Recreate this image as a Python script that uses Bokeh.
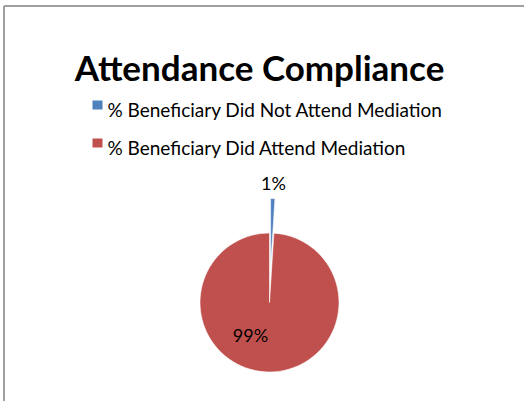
import math
from bokeh.plotting import figure
from bokeh.models import Range1d, ColumnDataSource
from bokeh.embed import file_html
from bokeh.resources import INLINE
from bokeh.core.properties import value

# ---- data ----
title = "Attendance Compliance"
categories = ["% Beneficiary Did Not Attend Mediation",
              "% Beneficiary Did Attend Mediation"]
values = [1, 99]
labels = ["1%", "99%"]
colors = ["#4F81BD", "#C0504D"]

# ---- layout (pixel positions, y measured from top) ----
W, H = 524, 401
FONT = "Lato"


def Y(py):
    return H - py


cx, cy, R = 269, Y(302), 69.5
explode = [34.5, 0]
label_pos = [(273, Y(182)), (250, Y(334))]

p = figure(width=W, height=H, output_backend="svg", toolbar_location=None,
           x_range=Range1d(0, W), y_range=Range1d(0, H), min_border=0)
p.axis.visible = False
p.xgrid.visible = False
p.ygrid.visible = False
p.outline_line_color = None
p.background_fill_color = "white"
p.border_fill_color = "white"

# chart border (left and top visible)
p.segment(x0=[3.5, 3.5], y0=[0, Y(5.5)], x1=[3.5, W], y1=[Y(5.5), Y(5.5)],
          line_color="#A0A0A0", line_width=2)

# pie slices, starting at 12 o'clock going clockwise
total = sum(values)
start = math.pi / 2
xs, ys, sa, ea = [], [], [], []
for v, e in zip(values, explode):
    sweep = 2 * math.pi * v / total
    end = start - sweep
    mid = (start + end) / 2
    xs.append(cx + e * math.cos(mid))
    ys.append(cy + e * math.sin(mid))
    sa.append(end)
    ea.append(start)
    start = end

src = ColumnDataSource(dict(x=xs, y=ys, start=sa, end=ea, color=colors))
p.wedge(x="x", y="y", radius=R, start_angle="start", end_angle="end",
        fill_color="color", line_color="white", line_width=0.6, source=src)

# data labels
p.text(x=[lp[0] for lp in label_pos], y=[lp[1] for lp in label_pos], text=labels,
       text_font=value(FONT), text_font_size="18px", text_color="black",
       text_align="center", text_baseline="middle")

# title
p.text(x=[259], y=[Y(66)], text=[title], text_font=value(FONT),
       text_font_size="35px", text_font_style="bold", text_color="black",
       text_align="center", text_baseline="alphabetic")

# legend
leg_base = [Y(109), Y(147)]
p.rect(x=[97, 97], y=[Y(104.5), Y(142.5)], width=10, height=9,
       fill_color=colors, line_color=None)
p.text(x=[107, 107], y=leg_base, text=categories, text_font=value(FONT),
       text_font_size="19px", text_color="black",
       text_align="left", text_baseline="alphabetic")

open("out.html", "w").write(file_html(p, INLINE))
